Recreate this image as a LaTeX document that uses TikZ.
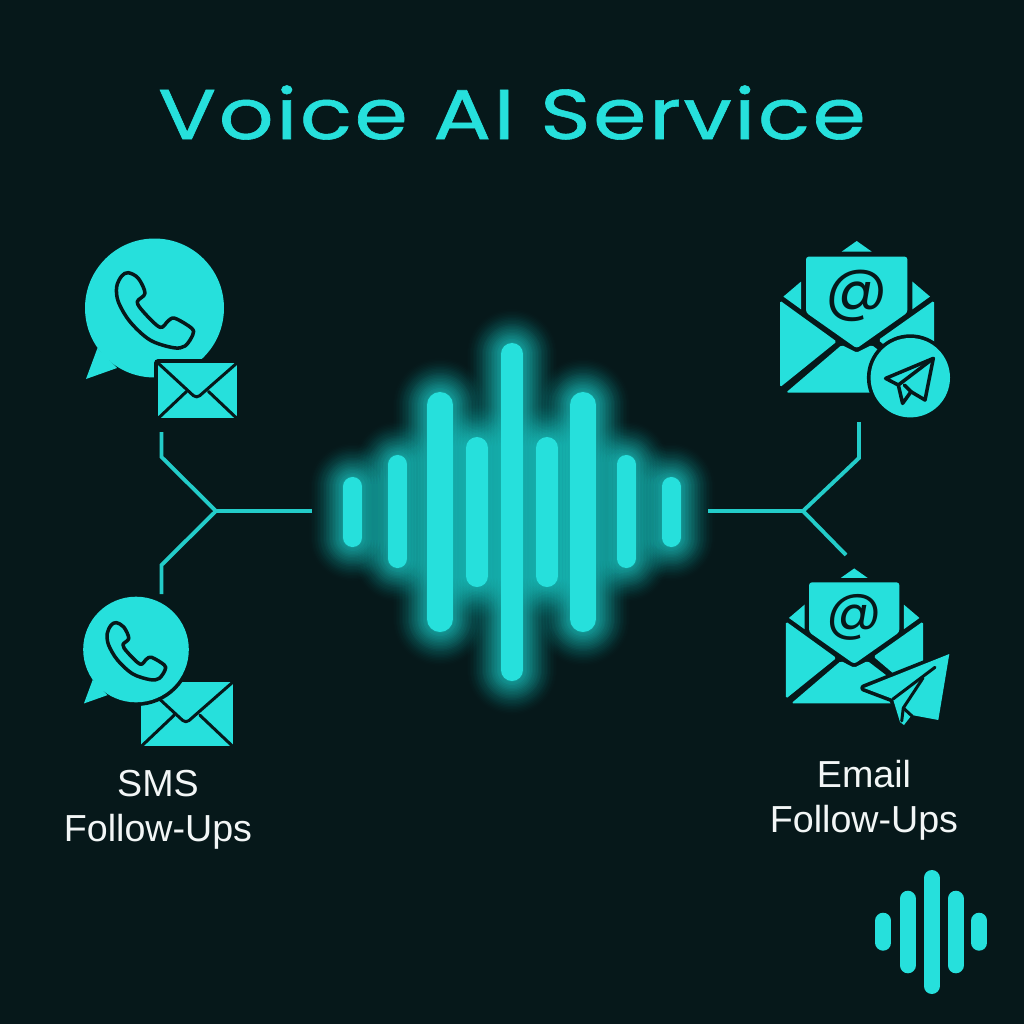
\documentclass[tikz,border=0pt]{standalone}
\usepackage{fontspec}
\setmainfont{Liberation Sans}
\newfontfamily\titlefont[LetterSpace=3, FakeBold=0.8]{Poppins}
\newfontfamily\atfont{Poppins}
\usetikzlibrary{calc}
\definecolor{Bg}{HTML}{06181A}
\definecolor{Teal}{HTML}{26E0DC}
\definecolor{Label}{HTML}{F2F6F6}
\tikzset{
	link/.style = {Teal!90!Bg, line width = 1.1pt, line join = miter},
	bar/.style = {Teal, line cap = round},
	cut/.style = {Bg, line width = 0.85pt, line cap = round, line join = round},
	halo/.style = {Bg, line width = 2.1pt, line join = round},
	caption/.style = {Label, align = center, font = {\fontsize{10.7pt}{12.8pt}\selectfont}},
	callbubble/.pic = {
		\draw[halo] (0,0) circle [radius = 69.5];
		\draw[halo] (-57,40) -- (-68.5,71) -- (-37.5,60) -- cycle;
		\fill[Teal] (0,0) circle [radius = 69.5];
		\fill[Teal] (-57,40) -- (-68.5,71) -- (-37.5,60) -- cycle;
		\draw[cut, line width = 1pt] plot[smooth cycle, tension = 0.55] coordinates {
			(-26.2,-35.3) (-16.2,-29.7) (-9.5,-14.7) (-17.2,-6.3) (-11.2,3.7) (5.5,19.3)
			(13.8,12.7) (20.5,10.3) (37.2,20.3) (38.2,27) (30.5,38) (18.8,39.7)
			(-4.5,32) (-24.5,13.7) (-36.2,-6.3) (-37.8,-21.3) (-32.8,-32)};
	},
	closedmail/.pic = {
		\draw[halo] (-39.5,-27.5) rectangle (39.5,27.5);
		\fill[Teal] (-39.5,-27.5) rectangle (39.5,27.5);
		\draw[cut, rounded corners = 1.2pt] (-39.5,-27.5) -- (-1,8) -- (39.5,-27.5);
		\draw[cut] (-39.5,28) -- (-11,1);
		\draw[cut] (39.5,28) -- (11,1);
	},
	openmail/.pic = {
		\fill[Teal, rounded corners = 0.5pt] (-76.7,-22.7) -- (-20,18.3) -- (-76.7,64) -- cycle;
		\fill[Teal, rounded corners = 0.5pt] (-70.7,69.3) -- (-15,21.7) -- (0,29.3) -- (15,21.7) -- (77.3,69.3) -- cycle;
		\fill[Teal, rounded corners = 0.5pt] (77.3,-22.7) -- (21.7,16.7) -- (77.3,64) -- cycle;
		\fill[Teal, rounded corners = 0.8pt] (-50.7,-66.7) -- (50.7,-66.7) -- (50.7,-10.7) -- (0,25) -- (-50.7,-10.7) -- cycle;
		\fill[Teal] (-73.3,-26.7) -- (-55.7,-41.7) -- (-55.7,-14) -- cycle;
		\fill[Teal] (73.3,-26.7) -- (55.7,-41.7) -- (55.7,-14) -- cycle;
		\fill[Teal] (-15,-71.7) -- (0,-82.3) -- (15,-71.7) -- cycle;
		\node[Bg, transform shape, inner sep = 0pt, font = {\atfont\fontsize{17.5pt}{17.5pt}\selectfont}] (at) at (0,-27) {@};
	}
}

\begin{document}
\begin{tikzpicture}[x = 0.01cm, y = -0.01cm]
\fill[Bg] (0,0) rectangle (1024,1024);

\node[Teal, anchor = base, inner sep = 0pt, xscale = 1.22, transform shape, font = {\titlefont\fontsize{20pt}{23pt}\selectfont}] (Title) at (512,139) {Voice AI Service};

% glow first so that it stays behind every bar
\foreach \x/\w/\t/\b in {352.7/19/477/547, 397.7/19/455/568, 440/26/392/632, 477/22/437/587, 512/22/343/681, 547/22/437/587, 583/26/392/632, 626/19/455/568, 671/19/477/547} {
	\foreach \g [evaluate = \g as \op using 0.085*(1 - \g/76)] in {2,5,...,74}
		\draw[bar, opacity = \op, line width = {(\w + \g)*0.2845pt}] (\x, \t + \w/2) -- (\x, \b - \w/2);
}
\foreach \x/\w/\t/\b in {352.7/19/477/547, 397.7/19/455/568, 440/26/392/632, 477/22/437/587, 512/22/343/681, 547/22/437/587, 583/26/392/632, 626/19/455/568, 671/19/477/547}
	\draw[bar, line width = {\w*0.2845pt}] (\x, \t + \w/2) -- (\x, \b - \w/2);

\coordinate (WaveL) at (312,511);
\coordinate (WaveR) at (708,511);
\coordinate (HubL) at (216,511);
\coordinate (HubR) at (803,511);
\coordinate (SMSTopBend) at (161.5,457);
\coordinate (SMSTop) at (161.5,432);
\coordinate (SMSLowBend) at (161.5,565);
\coordinate (SMSLow) at (161.5,594);
\coordinate (MailTopBend) at (859,458);
\coordinate (MailTop) at (859,422);
\coordinate (MailLow) at (846,555);

\draw[link] (WaveL) -- (HubL);
\draw[link] (SMSTop) -- (SMSTopBend) -- (HubL) -- (SMSLowBend) -- (SMSLow);
\draw[link] (WaveR) -- (HubR);
\draw[link] (MailTop) -- (MailTopBend) -- (HubR) -- (MailLow);

% SMS icons
\pic (BubbleA) at (154.5,308) {callbubble};
\pic (EnvA) at (197.5,390.5) {closedmail};
\pic[scale = 1.165] (EnvB) at (187,714) {closedmail};
\pic[scale = 0.76] (BubbleB) at (136,649.5) {callbubble};

\node[caption] (SMS) at (158,810) {SMS \\ Follow-Ups};

% email icons
\pic (MailA) at (856.7,323.3) {openmail};
\draw[halo] (910.3,377.7) circle [radius = 39.7];
\fill[Teal] (910.3,377.7) circle [radius = 39.7];
\draw[cut, line width = 1pt] (933.3,358.4) -- (885.6,378.4) -- (898.3,385) -- (902.6,403.4) -- (911,391.7) -- (925,400) -- cycle;
\draw[cut, line width = 1pt] (898.3,385) -- (933.3,358.4);
\draw[cut, line width = 1pt] (904.3,385) -- (911,391.7);

\pic[scale = 0.89] (MailB) at (854.2,641.7) {openmail};
\draw[halo] (949.3,654) -- (864,688) -- (893,699) -- (900,722) -- (904,725) -- (911.7,715) -- (938.3,720) -- cycle;
\fill[Teal] (949.3,654) -- (864,688) -- (893,699) -- (900,722) -- (904,725) -- (911.7,715) -- (938.3,720) -- cycle;
\draw[cut] (935,667.3) -- (893,699);
\draw[cut] (923,678) -- (903.3,708) -- (901.7,721);
\draw[cut] (903.3,708) -- (912,716);

\node[caption] (Email) at (864,800) {Email \\ Follow-Ups};

% small mark in the corner
\foreach \x/\t/\b in {883.3/912.7/950.7, 907.7/890.7/973.3, 931.7/870/994, 955.7/890.7/973.3, 979.3/912.7/950.7}
	\draw[bar, line width = 4.55pt] (\x, \t + 8) -- (\x, \b - 8);
\end{tikzpicture}
\end{document}
